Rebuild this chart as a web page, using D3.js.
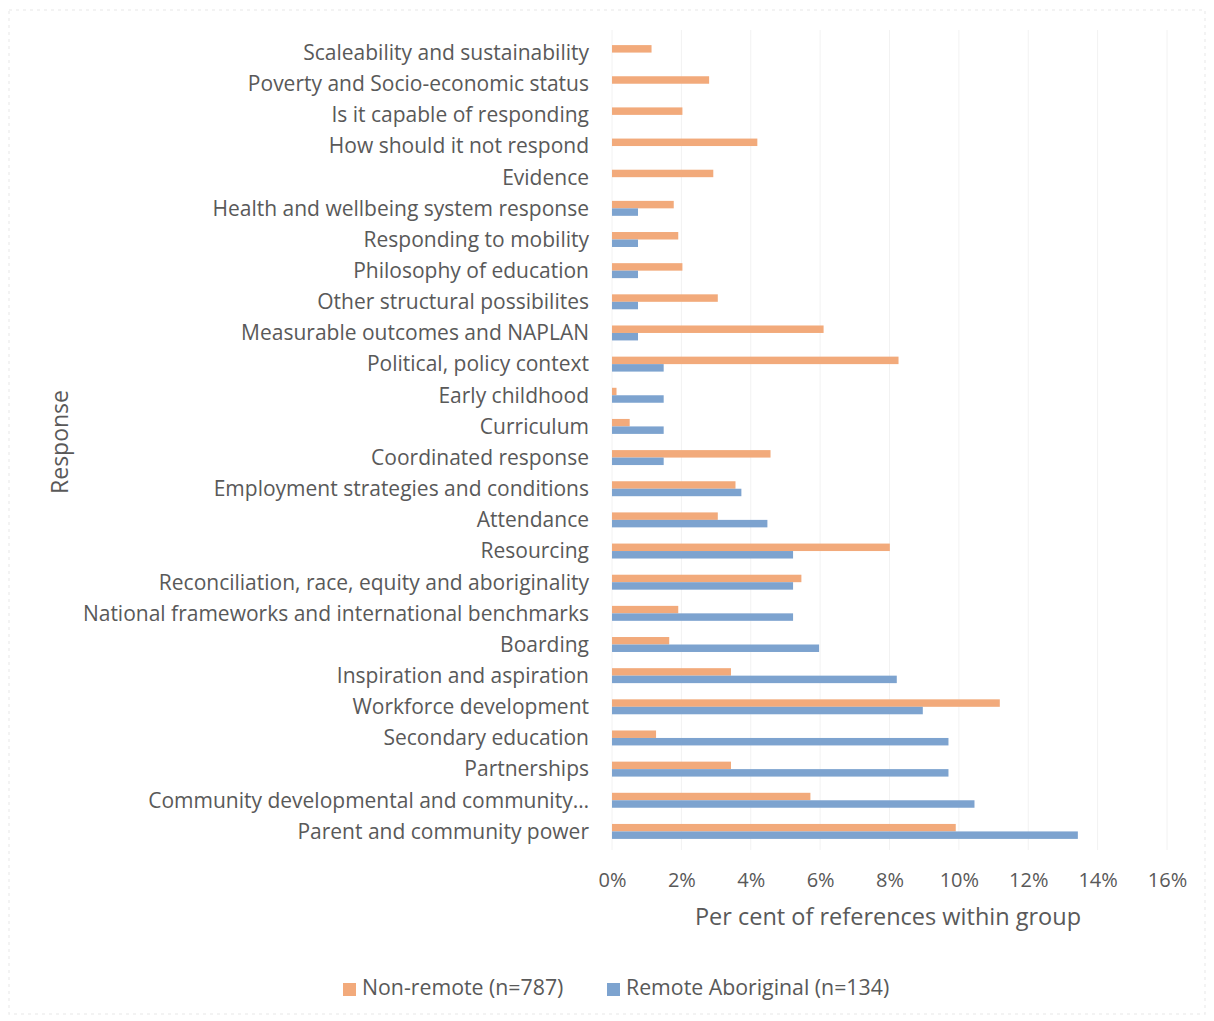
<!DOCTYPE html>
<html>
<head>
<meta charset="utf-8">
<script src="https://cdn.jsdelivr.net/npm/d3@7"></script>
<style>
  html, body { margin: 0; padding: 0; background: #fff; }
  svg { display: block; }
  text { font-family: "Open Sans", Lato, sans-serif; fill: #595959; }
</style>
</head>
<body>
<svg id="chart" width="1214" height="1021"></svg>
<script>
// Response themes, listed top to bottom
const categories = [
  "Scaleability and sustainability",
  "Poverty and Socio-economic status",
  "Is it capable of responding",
  "How should it not respond",
  "Evidence",
  "Health and wellbeing system response",
  "Responding to mobility",
  "Philosophy of education",
  "Other structural possibilites",
  "Measurable outcomes and NAPLAN",
  "Political, policy context",
  "Early childhood",
  "Curriculum",
  "Coordinated response",
  "Employment strategies and conditions",
  "Attendance",
  "Resourcing",
  "Reconciliation, race, equity and aboriginality",
  "National frameworks and international benchmarks",
  "Boarding",
  "Inspiration and aspiration",
  "Workforce development",
  "Secondary education",
  "Partnerships",
  "Community developmental and community…",
  "Parent and community power"
];

// Per cent of references within group
const nonRemote = [
  1.14, 2.80, 2.03, 4.19, 2.92, 1.78, 1.91, 2.03, 3.05, 6.10,
  8.26, 0.13, 0.51, 4.57, 3.56, 3.05, 8.01, 5.46, 1.91, 1.65,
  3.43, 11.18, 1.27, 3.43, 5.72, 9.91
];
const remoteAboriginal = [
  0, 0, 0, 0, 0, 0.75, 0.75, 0.75, 0.75, 0.75,
  1.49, 1.49, 1.49, 1.49, 3.73, 4.48, 5.22, 5.22, 5.22, 5.97,
  8.21, 8.96, 9.70, 9.70, 10.45, 13.43
];

const seriesNames = ["Non-remote (n=787)", "Remote Aboriginal (n=134)"];
const seriesColors = ["#F2AA7B", "#7DA3CF"];
const xTicks = [0, 2, 4, 6, 8, 10, 12, 14, 16];

const rows = categories.map((c, i) => ({
  category: c,
  values: [nonRemote[i], remoteAboriginal[i]]
}));

const FONT = "'Open Sans', Lato, sans-serif";
const svg = d3.select("#chart");

// faint chart-area frame
svg.append("rect")
  .attr("x", 9).attr("y", 10)
  .attr("width", 1196).attr("height", 1004)
  .attr("fill", "none")
  .attr("stroke", "#efefef")
  .attr("stroke-width", 1.5)
  .attr("stroke-dasharray", "3,4");

const plotLeft = 612, plotRight = 1167;
const plotTop = 37, plotBottom = 847;

const x = d3.scaleLinear().domain([0, 16]).range([plotLeft, plotRight]);

const y = d3.scaleBand()
  .domain(categories)
  .range([plotTop, plotBottom])
  .paddingInner(0.52)
  .paddingOuter(0.26);

const ySeries = d3.scaleBand()
  .domain([0, 1])
  .range([0, y.bandwidth()]);

// vertical gridlines
svg.append("g")
  .selectAll("line")
  .data(xTicks)
  .join("line")
  .attr("x1", d => x(d)).attr("x2", d => x(d))
  .attr("y1", 30).attr("y2", 850)
  .attr("stroke", "#f2f2f2")
  .attr("stroke-width", 1);

// bars
const groups = svg.append("g")
  .selectAll("g")
  .data(rows)
  .join("g")
  .attr("transform", d => `translate(0,${y(d.category)})`);

groups.selectAll("rect")
  .data(d => d.values.map((v, s) => ({ v, s })))
  .join("rect")
  .attr("x", x(0))
  .attr("y", d => ySeries(d.s))
  .attr("width", d => x(d.v) - x(0))
  .attr("height", ySeries.bandwidth())
  .attr("fill", d => seriesColors[d.s]);

// category axis
const yAxis = d3.axisLeft(y).tickSize(0).tickPadding(0);
const yg = svg.append("g")
  .attr("transform", `translate(${plotLeft - 23},0)`)
  .call(yAxis);
yg.select(".domain").remove();
yg.selectAll("text")
  .style("font-family", FONT)
  .style("font-size", "21px")
  .attr("fill", "#595959")
  .attr("dy", "0.35em");

// value axis
const xAxis = d3.axisBottom(x).tickValues(xTicks).tickSize(0).tickPadding(0)
  .tickFormat(d => d + "%");
const xg = svg.append("g")
  .attr("transform", `translate(0,880)`)
  .call(xAxis);
xg.select(".domain").remove();
xg.selectAll("text")
  .style("font-family", FONT)
  .style("font-size", "20px")
  .attr("fill", "#595959")
  .attr("dy", "0.35em");

// axis titles
svg.append("text")
  .attr("x", 888).attr("y", 919)
  .attr("text-anchor", "middle")
  .attr("dominant-baseline", "middle")
  .style("font-size", "23.5px")
  .text("Per cent of references within group");

svg.append("text")
  .attr("transform", "translate(62,442) rotate(-90)")
  .attr("text-anchor", "middle")
  .attr("dominant-baseline", "middle")
  .style("font-size", "23px")
  .text("Response");

// legend
const legendItems = [
  { name: seriesNames[0], color: seriesColors[0], x: 343 },
  { name: seriesNames[1], color: seriesColors[1], x: 607 }
];
const lg = svg.append("g")
  .selectAll("g")
  .data(legendItems)
  .join("g")
  .attr("transform", d => `translate(${d.x},989)`);
lg.append("rect")
  .attr("x", 0).attr("y", -6)
  .attr("width", 13).attr("height", 13)
  .attr("fill", d => d.color);
lg.append("text")
  .attr("x", 19).attr("y", 0)
  .attr("dominant-baseline", "middle")
  .style("font-size", "21.3px")
  .text(d => d.name);
</script>
</body>
</html>
